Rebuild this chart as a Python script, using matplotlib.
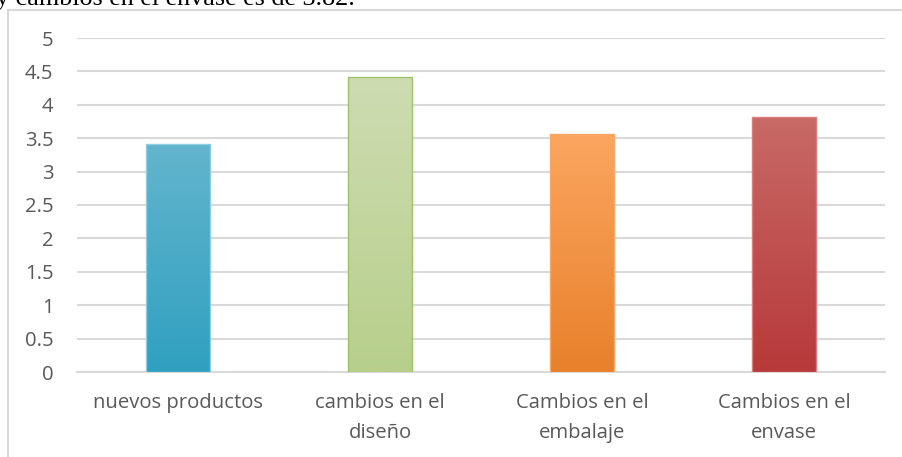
import matplotlib
matplotlib.use("Agg")
import matplotlib.pyplot as plt
import numpy as np
from matplotlib.patches import Rectangle
from matplotlib.colors import LinearSegmentedColormap

categories = ["nuevos productos", "cambios en el\ndiseño", "Cambios en el\nembalaje", "Cambios en el\nenvase"]
values = [3.42, 4.41, 3.57, 3.82]
top_colors = ["#63b5cd", "#cedcb2", "#fba660", "#c86a67"]
bottom_colors = ["#30a0c0", "#b7cf8b", "#e8802b", "#b8393a"]
edge_colors = ["#8fcde0", "#9dc36a", "#f7a867", "#d97f7c"]
yticks = [0, 0.5, 1, 1.5, 2, 2.5, 3, 3.5, 4, 4.5, 5]
ytick_labels = ["0", "0.5", "1", "1.5", "2", "2.5", "3", "3.5", "4", "4.5", "5"]

W, H = 902, 457
fig = plt.figure(figsize=(W / 100, H / 100), dpi=100)
plt.rcParams['font.family'] = ['Open Sans', 'DejaVu Sans']

# Chart border (left and top)
fig.add_artist(plt.Line2D([8 / W, 8 / W], [0, 1 - 10 / H], color="#d9d9d9", lw=1.5))
fig.add_artist(plt.Line2D([8 / W, 1], [1 - 10 / H, 1 - 10 / H], color="#d9d9d9", lw=1.5))

# Cut-off paragraph text at the top
fig.text(-0.004, 1 - 5 / H, "y cambios en el envase es de 3.82.", family="Liberation Serif",
         fontsize=18.8, color="#000000", ha="left", va="baseline")

ax = fig.add_axes([77 / W, 1 - 372 / H, (885 - 77) / W, (372 - 38) / H])
x = np.arange(len(categories))
bw = 0.317
bars = ax.bar(x, values, width=bw, color="none", edgecolor="none", zorder=3)
for b, v, tc, bc, ec in zip(bars, values, top_colors, bottom_colors, edge_colors):
    cmap = LinearSegmentedColormap.from_list("g", [bc, tc])
    grad = np.linspace(0, 1, 256).reshape(-1, 1)
    x0 = b.get_x()
    im = ax.imshow(grad, cmap=cmap, origin="lower", aspect="auto",
                   extent=[x0, x0 + bw, 0, v], zorder=3)
    rect = Rectangle((x0, 0), bw, v, transform=ax.transData)
    im.set_clip_path(rect)
    ax.add_patch(Rectangle((x0, 0), bw, v, facecolor="none", edgecolor=ec, lw=1.0, zorder=4))

ax.set_xlim(-0.5, len(categories) - 0.5)
ax.set_ylim(0, 5)
ax.set_yticks(yticks)
ax.set_yticklabels(ytick_labels)
ax.set_xticks(x)
ax.set_xticklabels(categories, linespacing=1.7)
ax.yaxis.grid(True, color="#d9d9d9", lw=1.5, zorder=0)
ax.set_axisbelow(True)
for s in ["top", "right", "left"]:
    ax.spines[s].set_visible(False)
ax.spines["bottom"].set_color("#d9d9d9")
ax.spines["bottom"].set_linewidth(1.5)
ax.tick_params(axis="both", length=0, labelsize=14.6, colors="#595959")
ax.tick_params(axis="y", pad=17)
ax.tick_params(axis="x", pad=15)
for lbl in ax.get_yticklabels():
    lbl.set_horizontalalignment("right")

fig.savefig("out.png", dpi=100)
